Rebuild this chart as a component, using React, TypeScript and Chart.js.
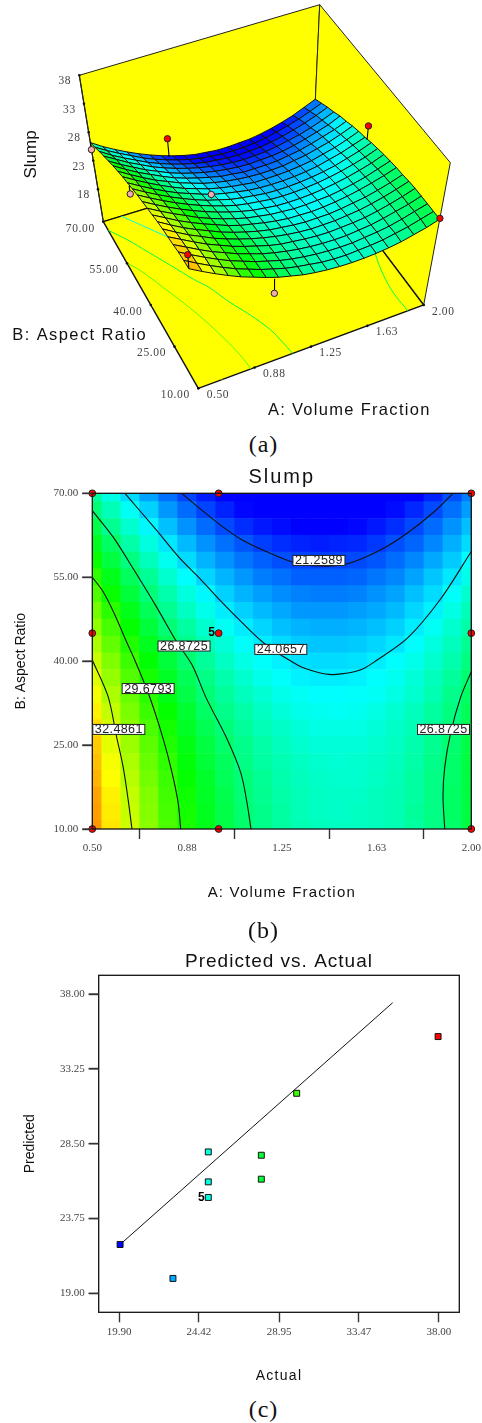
import React, { useEffect, useRef } from "react";
import { Chart, registerables } from "chart.js";

Chart.register(...registerables);

// ---------- shared slump surface ----------
const aNodes = [0.5, 0.575, 0.65, 0.725, 0.8, 0.875, 0.95, 1.025, 1.1, 1.175, 1.25, 1.325, 1.4, 1.475, 1.55, 1.625, 1.7, 1.775, 1.85, 1.925, 2.0];
const bNodes = [10, 13, 16, 19, 22, 25, 28, 31, 34, 37, 40, 43, 46, 49, 52, 55, 58, 61, 64, 67, 70];
const slumpRows = [
  [35.3, 33.9, 32.6, 31.4, 30.3, 29.4, 28.5, 27.7, 27.1, 26.5, 26.1, 25.8, 25.6, 25.5, 25.5, 25.6, 25.8, 26.1, 26.6, 27.1, 27.8],
  [35.2, 33.8, 32.5, 31.3, 30.2, 29.3, 28.4, 27.7, 27.0, 26.5, 26.1, 25.7, 25.5, 25.4, 25.5, 25.6, 25.8, 26.2, 26.6, 27.2, 27.8],
  [35.1, 33.7, 32.4, 31.2, 30.1, 29.2, 28.3, 27.6, 26.9, 26.4, 26.0, 25.7, 25.5, 25.4, 25.4, 25.6, 25.8, 26.1, 26.6, 27.2, 27.8],
  [34.8, 33.5, 32.2, 31.0, 30.0, 29.0, 28.2, 27.4, 26.8, 26.3, 25.9, 25.6, 25.4, 25.3, 25.3, 25.5, 25.7, 26.1, 26.6, 27.1, 27.8],
  [34.6, 33.3, 32.0, 30.8, 29.8, 28.8, 28.0, 27.3, 26.6, 26.1, 25.8, 25.5, 25.3, 25.2, 25.3, 25.4, 25.6, 26.0, 26.5, 27.1, 27.8],
  [34.4, 33.0, 31.7, 30.6, 29.5, 28.6, 27.8, 27.1, 26.5, 26.0, 25.6, 25.3, 25.1, 25.1, 25.1, 25.3, 25.5, 25.9, 26.4, 27.0, 27.7],
  [34.1, 32.7, 31.4, 30.3, 29.3, 28.3, 27.5, 26.8, 26.2, 25.7, 25.4, 25.1, 24.9, 24.9, 24.9, 25.1, 25.4, 25.7, 26.2, 26.8, 27.5],
  [33.7, 32.4, 31.1, 30.0, 29.0, 28.1, 27.2, 26.5, 26.0, 25.5, 25.1, 24.8, 24.7, 24.6, 24.7, 24.9, 25.2, 25.6, 26.1, 26.7, 27.4],
  [33.3, 32.0, 30.8, 29.7, 28.6, 27.7, 26.9, 26.2, 25.6, 25.2, 24.8, 24.6, 24.4, 24.4, 24.5, 24.6, 24.9, 25.3, 25.8, 26.5, 27.2],
  [32.9, 31.6, 30.4, 29.3, 28.3, 27.4, 26.6, 25.9, 25.3, 24.8, 24.5, 24.2, 24.1, 24.1, 24.2, 24.4, 24.7, 25.1, 25.6, 26.2, 27.0],
  [32.5, 31.2, 30.0, 28.9, 27.9, 27.0, 26.2, 25.5, 24.9, 24.5, 24.2, 23.9, 23.8, 23.8, 23.9, 24.1, 24.4, 24.8, 25.3, 25.9, 26.7],
  [32.0, 30.7, 29.5, 28.4, 27.4, 26.5, 25.7, 25.1, 24.5, 24.1, 23.8, 23.5, 23.4, 23.4, 23.5, 23.7, 24.0, 24.4, 25.0, 25.6, 26.4],
  [31.5, 30.2, 29.0, 27.9, 26.9, 26.1, 25.3, 24.6, 24.1, 23.7, 23.3, 23.1, 23.0, 23.0, 23.1, 23.3, 23.6, 24.1, 24.6, 25.3, 26.0],
  [31.0, 29.7, 28.5, 27.4, 26.4, 25.5, 24.8, 24.1, 23.6, 23.2, 22.9, 22.6, 22.6, 22.6, 22.7, 22.9, 23.2, 23.7, 24.2, 24.9, 25.7],
  [30.4, 29.1, 27.9, 26.8, 25.9, 25.0, 24.3, 23.6, 23.1, 22.7, 22.4, 22.2, 22.1, 22.1, 22.2, 22.5, 22.8, 23.3, 23.8, 24.5, 25.3],
  [29.8, 28.5, 27.3, 26.3, 25.3, 24.4, 23.7, 23.1, 22.6, 22.1, 21.9, 21.6, 21.6, 21.6, 21.7, 22.0, 22.3, 22.8, 23.4, 24.0, 24.8],
  [29.1, 27.8, 26.7, 25.6, 24.7, 23.8, 23.1, 22.5, 22.0, 21.6, 21.3, 21.1, 21.0, 21.1, 21.2, 21.4, 21.8, 22.3, 22.9, 23.5, 24.4],
  [28.4, 27.2, 26.0, 25.0, 24.0, 23.2, 22.5, 21.9, 21.4, 21.0, 20.7, 20.5, 20.4, 20.5, 20.6, 20.9, 21.3, 21.7, 22.3, 23.0, 23.8],
  [27.7, 26.4, 25.3, 24.3, 23.3, 22.5, 21.8, 21.2, 20.7, 20.3, 20.1, 19.9, 19.8, 19.9, 20.0, 20.3, 20.7, 21.2, 21.8, 22.5, 23.3],
  [26.9, 25.7, 24.6, 23.6, 22.6, 21.8, 21.1, 20.5, 20.0, 19.6, 19.4, 19.2, 19.2, 19.2, 19.4, 19.7, 20.1, 20.6, 21.2, 21.9, 22.7],
  [26.2, 24.9, 23.8, 22.8, 21.9, 21.1, 20.4, 19.8, 19.3, 18.9, 18.7, 18.5, 18.5, 18.6, 18.7, 19.0, 19.4, 19.9, 20.5, 21.3, 22.1],
];

// ---------- contour lines ([A, B] pairs) ----------
const contour21: number[][] = [[0.853, 70], [0.991, 64.9], [1.088, 61.8], [1.193, 59.5], [1.299, 57.6], [1.404, 57], [1.51, 57.4], [1.642, 59.9], [1.747, 62.9], [1.853, 66.7], [1.928, 70]];
const contour24: number[][] = [[0.629, 70], [0.754, 63.4], [0.846, 58.4], [0.925, 54.8], [1.005, 50.9], [1.088, 47.1], [1.18, 43.2], [1.312, 39.3], [1.391, 38], [1.455, 37.6], [1.56, 38.4], [1.627, 40.2], [1.747, 44.1], [1.88, 51.2], [2, 59.6]];
const contour26L: number[][] = [[0.5, 66.9], [0.582, 62.2], [0.661, 56.6], [0.754, 49.7], [0.833, 43.5], [0.895, 39.3], [0.952, 33.3], [1.031, 26.3], [1.088, 20], [1.113, 14.5], [1.128, 10]];
const contour26R: number[][] = [[2, 38.1], [1.958, 33.6], [1.918, 27.1], [1.895, 21.1], [1.888, 15.8], [1.895, 10]];
const contour29: number[][] = [[0.5, 55], [0.543, 52.4], [0.589, 48.3], [0.635, 43.5], [0.668, 40.2], [0.727, 33.6], [0.78, 26.2], [0.816, 20], [0.84, 14.6], [0.85, 10]];
const contour32: number[][] = [[0.5, 40.2], [0.563, 33.6], [0.596, 26.5], [0.622, 21.1], [0.642, 15.2], [0.657, 10]];
const contourSet: { level: number; points: number[][] }[] = [
  { level: 21.2589, points: contour21 },
  { level: 24.0657, points: contour24 },
  { level: 26.8725, points: contour26L },
  { level: 26.8725, points: contour26R },
  { level: 29.6793, points: contour29 },
  { level: 32.4861, points: contour32 },
];
const contourLabelText = ["21.2589", "24.0657", "26.8725", "29.6793", "32.4861", "26.8725"];
const contourLabelA = [1.397, 1.246, 0.863, 0.721, 0.605, 1.89];
const contourLabelB = [58, 42.1, 42.7, 35.1, 27.8, 27.8];

// ---------- design points ----------
const designA = [0.5, 1, 2, 0.5, 1, 2, 0.5, 1, 2];
const designB = [70, 70, 70, 45, 45, 45, 10, 10, 10];

// 3D balls
const ballA = [0.5, 1, 0.5, 1, 0.5, 2, 2, 1];
const ballB = [70, 70, 45, 45, 10, 45, 10, 10];
const ballZ = [24.95, 22.95, 30, 25.3, 38, 28.4, 27.95, 24.95];
const ballAbove = [false, true, false, false, true, true, true, false];

// Predicted vs actual
const actualValues = [19.96, 22.95, 24.95, 24.95, 24.95, 27.95, 27.95, 29.95, 37.95];
const predictedValues = [22.1, 19.95, 25.09, 26.08, 27.98, 26.25, 27.77, 31.7, 35.3];
const fitLineActual = [19.96, 35.38];
const fitLinePredicted = [22.1, 37.45];

// ---------- axes ----------
const aTicks = [0.5, 0.875, 1.25, 1.625, 2];
const bTicks = [10, 25, 40, 55, 70];
const zTicks = [18, 23, 28, 33, 38];
const actualTicks = [19.9, 24.42, 28.95, 33.47, 38];
const predictedTicks = [19, 23.75, 28.5, 33.25, 38];

const SANS = "'Liberation Sans', Arial, sans-serif";
const SERIF = "'Liberation Serif', 'Times New Roman', serif";

function colorFor(z: number): string {
  const t = Math.max(0, Math.min(1, (z - 19.9) / 18.1)) * 4;
  const s = Math.min(3, Math.floor(t));
  const f = t - s;
  const c = (v: number) => Math.round(v * 255);
  if (s === 0) return `rgb(0,${c(f)},255)`;
  if (s === 1) return `rgb(0,255,${c(1 - f)})`;
  if (s === 2) return `rgb(${c(f)},255,0)`;
  return `rgb(255,${c(1 - f)},0)`;
}

// ---------- 3D box ----------
const Z_FLOOR = 12.3;
const Z_TOP = 38;
const box = {
  f00: [198.3, 388.3], f10: [423.7, 305], f01: [103.3, 221.7], f11: [312.7, 157.5],
  t00: [187.8, 254.7], t10: [450.3, 162.7], t01: [79.3, 75.3], t11: [319.7, 4.7],
};
function project(a: number, b: number, z: number) {
  const u = (a - 0.5) / 1.5, v = (b - 10) / 60, t = (z - Z_FLOOR) / (Z_TOP - Z_FLOOR);
  const bl = (p00: number[], p10: number[], p01: number[], p11: number[], k: number) =>
    (1 - v) * ((1 - u) * p00[k] + u * p10[k]) + v * ((1 - u) * p01[k] + u * p11[k]);
  const pos = (k: number) =>
    (1 - t) * bl(box.f00, box.f10, box.f01, box.f11, k) + t * bl(box.t00, box.t10, box.t01, box.t11, k);
  return { x: pos(0), y: pos(1) };
}
const surfaceAt = (a: number, b: number) => {
  const i = Math.round((a - 0.5) / 0.075), j = Math.round((b - 10) / 3);
  return slumpRows[j][i];
};

function poly(points: { x: number; y: number }[], fillColor: string, lineColor: string, width: number) {
  return {
    type: "scatter", showLine: true, data: [...points, points[0]], fill: "shape",
    backgroundColor: fillColor, borderColor: lineColor, borderWidth: width, pointRadius: 0, clip: false,
  };
}
function path(points: { x: number; y: number }[], lineColor: string, width: number, tension = 0) {
  return {
    type: "scatter", showLine: true, data: points, fill: false, tension,
    borderColor: lineColor, borderWidth: width, pointRadius: 0, clip: false,
  };
}

function spaced(obj: any, method: string, px: string) {
  if (!obj || obj.__spaced) return;
  const orig = obj[method];
  obj[method] = function (...args: any[]) {
    const c = this.ctx;
    c.letterSpacing = px;
    orig.apply(this, args);
    c.letterSpacing = "0px";
  };
  obj.__spaced = true;
}

function text(ctx: any, s: string, x: number, y: number, font: string, color: string, spacing: string, rot = 0) {
  ctx.save();
  ctx.translate(x, y);
  if (rot) ctx.rotate(rot);
  ctx.font = font;
  ctx.fillStyle = color;
  ctx.letterSpacing = spacing;
  ctx.textAlign = "center";
  ctx.textBaseline = "middle";
  ctx.fillText(s, 0, 0);
  ctx.restore();
}

const framePlugin = (lineWidth: number) => ({
  id: "frame",
  afterDatasetsDraw(chart: any) {
    const { ctx, chartArea: r, scales } = chart;
    ctx.save();
    ctx.strokeStyle = "#111";
    ctx.lineWidth = lineWidth;
    ctx.strokeRect(r.left, r.top, r.right - r.left, r.bottom - r.top);
    ctx.strokeStyle = "#333";
    ctx.lineWidth = 1.4;
    scales.y.ticks.forEach((t: any) => {
      const y = scales.y.getPixelForValue(t.value);
      ctx.beginPath();
      ctx.moveTo(r.left - 10, y);
      ctx.lineTo(r.left, y);
      ctx.stroke();
    });
    ctx.restore();
  },
});
const titleSpacing = (px: string) => ({
  id: "titleSpacing",
  beforeDraw(chart: any) {
    spaced(chart.titleBlock, "draw", px);
  },
});

function axisOptions(ticksList: number[], lo: number, hi: number, size: number, title: string, fontSize: number, pad: any, spacing: string, labelPad: number) {
  return {
    type: "linear", min: lo, max: hi, offset: false,
    afterBuildTicks(scale: any) { scale.ticks = ticksList.map((value) => ({ value })); },
    afterFit(scale: any) {
      if (scale.isHorizontal()) scale.height = size; else scale.width = size;
      scale.paddingLeft = scale.paddingRight = scale.paddingTop = scale.paddingBottom = 0;
      spaced(scale, "drawTitle", spacing);
    },
    grid: { drawOnChartArea: false, drawTicks: true, tickLength: 10, tickColor: "#333", tickWidth: 1.4 },
    border: { display: false },
    ticks: {
      autoSkip: false, maxRotation: 0, minRotation: 0, padding: labelPad, color: "#444",
      font: { family: SERIF, size: 11 },
      callback: (v: any) => Number(v).toFixed(2),
    },
    title: { display: true, text: title, color: "#111", font: { family: SANS, size: fontSize }, padding: pad },
  };
}

function makeSurfaceChart(canvas: HTMLCanvasElement) {
  const p = project;
  const layers: any[] = [];
  // walls and floor
  const c = (k: string) => ({ x: (box as any)[k][0], y: (box as any)[k][1] });
  layers.push(poly([c("t01"), c("t11"), c("f11"), c("f01")], "#ffff00", "#222", 1));
  layers.push(poly([c("t11"), c("t10"), c("f10"), c("f11")], "#ffff00", "#222", 1));
  layers.push(poly([c("f00"), c("f10"), c("f11"), c("f01")], "#ffff00", "#111", 1.4));
  layers.push(path([c("t01"), c("f01")], "#222", 1.2));
  // floor contours
  contourSet.forEach((k) => {
    if (k.level < 24) return;
    layers.push(path(k.points.map(([a, b]) => p(a, b, Z_FLOOR)), colorFor(k.level + 0.8), 1, 0.3));
  });
  // surface, far to near
  for (let j = bNodes.length - 2; j >= 0; j--) {
    for (let i = 0; i < aNodes.length - 1; i++) {
      const z00 = slumpRows[j][i], z10 = slumpRows[j][i + 1], z01 = slumpRows[j + 1][i], z11 = slumpRows[j + 1][i + 1];
      layers.push(poly(
        [p(aNodes[i], bNodes[j], z00), p(aNodes[i + 1], bNodes[j], z10), p(aNodes[i + 1], bNodes[j + 1], z11), p(aNodes[i], bNodes[j + 1], z01)],
        colorFor((z00 + z10 + z01 + z11) / 4), "#111", 1));
    }
  }
  // stems
  ballA.forEach((a, i) => {
    layers.push(path([p(a, ballB[i], ballZ[i]), p(a, ballB[i], surfaceAt(a, ballB[i]))], "#000", 1.1));
  });
  // balls and axis tick marks
  layers.push({
    type: "scatter", data: ballA.map((a, i) => p(a, ballB[i], ballZ[i])), pointRadius: 3.2, clip: false,
    backgroundColor: ballAbove.map((v) => (v ? "#ff0000" : "#f2aeae")), borderColor: "#222", borderWidth: 1,
  });
  layers.push({
    type: "scatter", clip: false, pointRadius: 1.3, backgroundColor: "#111", borderWidth: 0,
    data: [
      ...zTicks.map((z) => p(0.5, 70, z)),
      ...bTicks.map((b) => p(0.5, b, Z_FLOOR)),
      ...aTicks.map((a) => p(a, 10, Z_FLOOR)),
    ],
  });

  const labels = {
    id: "surfaceLabels",
    afterDraw(chart: any) {
      const { ctx } = chart;
      const tf = `11.5px ${SERIF}`;
      zTicks.forEach((z) => { const q = p(0.5, 70, z); text(ctx, String(z), q.x - 14.5, q.y + 6, tf, "#444", "0.6px"); });
      bTicks.forEach((b) => { const q = p(0.5, b, Z_FLOOR); text(ctx, b.toFixed(2), q.x - 23, q.y + 6.8, tf, "#444", "0.6px"); });
      aTicks.forEach((a) => { const q = p(a, 10, Z_FLOOR); text(ctx, a.toFixed(2), q.x + 19.6, q.y + 6.6, tf, "#444", "0.6px"); });
      text(ctx, "Slump", 31, 154.5, `17px ${SANS}`, "#111", "0px", -Math.PI / 2);
      text(ctx, "B: Aspect Ratio", 79.7, 335, `16.5px ${SANS}`, "#111", "1.4px");
      text(ctx, "A: Volume Fraction", 349.3, 410, `16.5px ${SANS}`, "#111", "1.3px");
    },
  };

  return new Chart(canvas, {
    type: "scatter",
    data: { datasets: layers.reverse() as any },
    options: {
      animation: false, responsive: false, events: [],
      layout: { padding: 0, autoPadding: false },
      plugins: { legend: { display: false }, tooltip: { enabled: false } },
      scales: {
        x: { type: "linear", display: false, min: 0, max: canvas.width },
        y: { type: "linear", display: false, min: 0, max: canvas.height, reverse: true },
      },
    },
    plugins: [labels],
  } as any);
}

function makeContourChart(canvas: HTMLCanvasElement) {
  const bars = bNodes.map((b, j) => ({
    type: "bar", order: 10, grouped: false, barPercentage: 1, categoryPercentage: 1, borderWidth: 0,
    data: aNodes.map((a) => ({ x: a, y: [b - 1.5, b + 1.5] })),
    backgroundColor: slumpRows[j].map(colorFor),
  }));
  const lines = contourSet.map((k) => ({
    type: "scatter", order: 2, showLine: true, tension: 0.3, fill: false, pointRadius: 0,
    borderColor: "#111", borderWidth: 1.1, data: k.points.map(([x, y]) => ({ x, y })),
  }));
  const dots = {
    type: "scatter", order: 0, clip: false, pointRadius: 3.4, backgroundColor: "#ff0000", borderColor: "#222", borderWidth: 1,
    data: designA.map((x, i) => ({ x, y: designB[i] })),
  };
  const labels = {
    id: "contourLabels",
    afterDatasetsDraw(chart: any) {
      const { ctx, scales } = chart;
      contourLabelText.forEach((s, i) => {
        const x = scales.x.getPixelForValue(contourLabelA[i]), y = scales.y.getPixelForValue(contourLabelB[i]);
        ctx.save();
        ctx.fillStyle = "#fff";
        ctx.strokeStyle = "#222";
        ctx.lineWidth = 1;
        ctx.fillRect(x - 26, y - 5, 52, 10);
        ctx.strokeRect(x - 26, y - 5, 52, 10);
        ctx.restore();
        text(ctx, s, x, y + 0.5, `12.5px ${SANS}`, "#222", "0.4px");
      });
      text(ctx, "5", scales.x.getPixelForValue(1) - 7, scales.y.getPixelForValue(45), `bold 12px ${SANS}`, "#000", "0px");
    },
  };
  return new Chart(canvas, {
    type: "bar",
    data: { datasets: [dots, ...lines, ...bars] as any },
    options: {
      animation: false, responsive: false, events: [],
      layout: { padding: { right: 10.7, left: 0, top: 0, bottom: 0 }, autoPadding: false },
      plugins: {
        legend: { display: false }, tooltip: { enabled: false },
        title: { display: true, text: "Slump", fullSize: false, color: "#111", font: { family: SANS, size: 20, weight: "normal" }, padding: { top: 5.7, bottom: 3.6 } },
      },
      scales: {
        x: axisOptions(aTicks, 0.5, 2, 445 - 369, "A: Volume Fraction", 15, { top: 0, bottom: 3.3 }, "1.2px", 3),
        y: axisOptions(bTicks, 10, 70, 92.3, "B: Aspect Ratio", 14, { top: 12.6, bottom: 0 }, "0px", 4),
      },
    },
    plugins: [framePlugin(1.3), titleSpacing("2px"), labels],
  } as any);
}

function makeParityChart(canvas: HTMLCanvasElement) {
  const labels = {
    id: "replicate",
    afterDatasetsDraw(chart: any) {
      const { ctx, scales } = chart;
      text(ctx, "5", scales.x.getPixelForValue(actualValues[2]) - 7, scales.y.getPixelForValue(predictedValues[2]), `bold 12px ${SANS}`, "#000", "0px");
    },
  };
  return new Chart(canvas, {
    type: "scatter",
    data: {
      datasets: [
        {
          data: actualValues.map((x, i) => ({ x, y: predictedValues[i] })),
          pointStyle: "rect", pointRadius: 4.2, borderWidth: 1, borderColor: "#111",
          backgroundColor: actualValues.map(colorFor),
        },
        {
          showLine: true, pointRadius: 0, borderColor: "#111", borderWidth: 1,
          data: fitLineActual.map((x, i) => ({ x, y: fitLinePredicted[i] })),
        },
      ] as any,
    },
    options: {
      animation: false, responsive: false, events: [],
      layout: { padding: { right: 22.7, left: 0, top: 0, bottom: 0 }, autoPadding: false },
      plugins: {
        legend: { display: false }, tooltip: { enabled: false },
        title: { display: true, text: "Predicted vs. Actual", fullSize: false, color: "#111", font: { family: SANS, size: 19, weight: "normal" }, padding: { top: 10.3, bottom: 2.2 } },
      },
      scales: {
        x: axisOptions(actualTicks, 18.75, 39.15, 445 - 372.3, "Actual", 14, { top: 0, bottom: 0.6 }, "1.3px", 3),
        y: axisOptions(predictedTicks, 17.8, 39.19, 98.7, "Predicted", 14, { top: 22.1, bottom: 0 }, "0px", 4),
      },
    },
    plugins: [framePlugin(1.3), titleSpacing("1px"), labels],
  } as any);
}

const captions = [
  { label: "(a)", top: 432 },
  { label: "(b)", top: 918 },
  { label: "(c)", top: 1397 },
];

export default function App() {
  const a = useRef<HTMLCanvasElement>(null);
  const b = useRef<HTMLCanvasElement>(null);
  const c = useRef<HTMLCanvasElement>(null);
  useEffect(() => {
    const charts = [makeSurfaceChart(a.current!), makeContourChart(b.current!), makeParityChart(c.current!)];
    return () => charts.forEach((ch) => ch.destroy());
  }, []);
  const place = (top: number): React.CSSProperties => ({ position: "absolute", left: 0, top, display: "block" });
  return (
    <div style={{ position: "absolute", left: 0, top: 0, width: 482, height: 1423, overflow: "hidden", background: "#fff" }}>
      <canvas ref={a} width={482} height={430} style={place(0)} />
      <canvas ref={b} width={482} height={445} style={place(460)} />
      <canvas ref={c} width={482} height={445} style={place(940)} />
      {captions.map((k) => (
        <div key={k.label} style={{ position: "absolute", left: 0, width: 527, top: k.top, textAlign: "center", fontFamily: SERIF, fontSize: 24, lineHeight: "24px", letterSpacing: "1px", color: "#111" }}>
          {k.label}
        </div>
      ))}
    </div>
  );
}
